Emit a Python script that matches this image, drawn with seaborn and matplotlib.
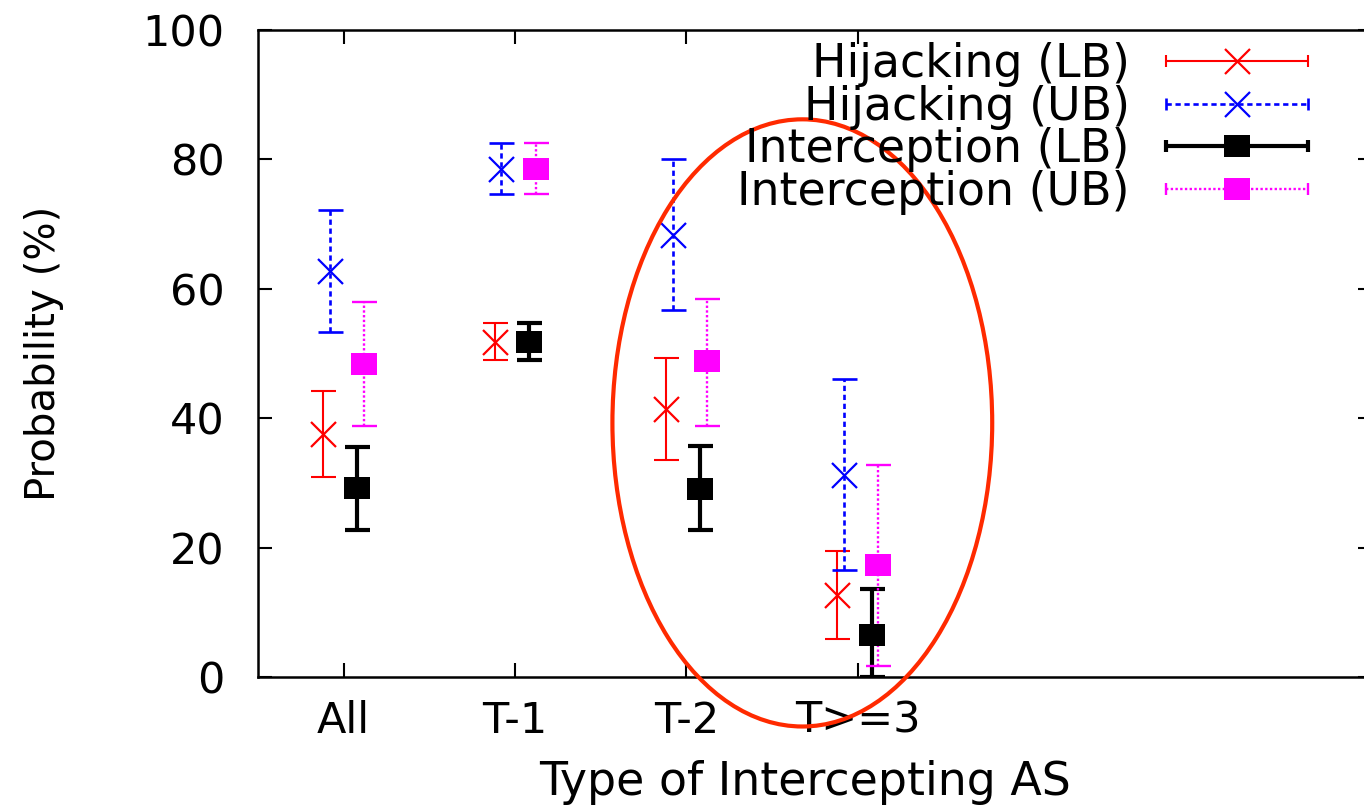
import numpy as np
import pandas as pd
import matplotlib
matplotlib.use("Agg")
import matplotlib.pyplot as plt
import seaborn as sns
from matplotlib.lines import Line2D
from matplotlib.patches import Ellipse
from matplotlib.legend_handler import HandlerBase

# ---------------- data ----------------
categories = ["All", "T-1", "T-2", "T>=3"]
series_names = ["Hijacking (LB)", "Hijacking (UB)", "Interception (LB)", "Interception (UB)"]

hij_lb = [37.6, 51.8, 41.5, 12.7]
hij_lb_lo = [31.0, 49.0, 33.5, 5.9]
hij_lb_hi = [44.3, 54.7, 49.3, 19.5]

hij_ub = [62.8, 78.6, 68.4, 31.3]
hij_ub_lo = [53.4, 74.7, 56.8, 16.6]
hij_ub_hi = [72.2, 82.5, 80.1, 46.1]

int_lb = [29.2, 51.8, 29.1, 6.5]
int_lb_lo = [22.7, 49.0, 22.8, 0.0]
int_lb_hi = [35.6, 54.7, 35.7, 13.6]

int_ub = [48.4, 78.6, 48.8, 17.3]
int_ub_lo = [38.9, 74.7, 38.9, 1.7]
int_ub_hi = [58.0, 82.5, 58.4, 32.8]

y_ticks = [0, 20, 40, 60, 80, 100]

# ---------------- style ----------------
sns.set_style("ticks")
plt.rcParams["font.family"] = ["DejaVu Sans"]
plt.rcParams["text.color"] = "black"
plt.rcParams["axes.labelcolor"] = "black"
plt.rcParams["xtick.color"] = "black"
plt.rcParams["ytick.color"] = "black"
plt.rcParams["axes.edgecolor"] = "black"

rect = [(-1, -0.8), (1, -0.8), (1, 0.8), (-1, 0.8), (-1, -0.8)]
styles = [
    dict(color="#ff0000", ls="-", lw=1.5, marker="x", ms=18, mew=1.6, offset=-0.12),
    dict(color="#0000ff", ls=(0, (2.0, 1.4)), lw=1.9, marker="x", ms=18, mew=1.6, offset=-0.08),
    dict(color="#000000", ls="-", lw=3.0, marker=rect, ms=19, mew=0, offset=0.08),
    dict(color="#ff00ff", ls=(0, (1.0, 1.0)), lw=1.7, marker=rect, ms=19, mew=0, offset=0.12),
]
vals = [(hij_lb, hij_lb_lo, hij_lb_hi), (hij_ub, hij_ub_lo, hij_ub_hi),
        (int_lb, int_lb_lo, int_lb_hi), (int_ub, int_ub_lo, int_ub_hi)]

W, H = 1364, 810
fig = plt.figure(figsize=(W / 100, H / 100), dpi=100)
ax_left, ax_right, ax_top, ax_bot = 258, 1372, 30, 677.3
ax = fig.add_axes([ax_left / W, 1 - ax_bot / H, (ax_right - ax_left) / W, (ax_bot - ax_top) / H])

xpos = np.arange(1, len(categories) + 1)
capsize = 9
for name, st, (v, lo, hi) in zip(series_names, styles, vals):
    v = np.array(v); lo = np.array(lo); hi = np.array(hi)
    x = xpos + st["offset"]
    eb = ax.errorbar(x, v, yerr=[v - lo, hi - v], fmt="none", ecolor=st["color"],
                     elinewidth=st["lw"], capsize=capsize, capthick=st["lw"], zorder=2)
    eb[2][0].set_linestyle(st["ls"])
    df = pd.DataFrame({"x": x, "y": v})
    if st["mew"] > 0:
        sns.scatterplot(data=df, x="x", y="y", marker=st["marker"], s=st["ms"] ** 2,
                        color=st["color"], linewidth=st["mew"], ax=ax, legend=False, zorder=3)
    else:
        sns.scatterplot(data=df, x="x", y="y", marker=st["marker"], s=st["ms"] ** 2,
                        color=st["color"], edgecolor=st["color"], linewidth=0, ax=ax,
                        legend=False, zorder=3)

# highlight ellipse
ell = Ellipse((3.676, 39.3), width=2.216, height=93.8, fill=False, edgecolor="#ff2a00",
              lw=3.0, clip_on=False, zorder=4)
ax.add_patch(ell)

ax.set_xlim(0.5, 7.0)
ax.set_ylim(0, 100)
ax.set_xticks(xpos)
ax.set_xticklabels(categories)
ax.set_yticks(y_ticks)
ax.tick_params(axis="both", direction="in", length=10, width=1.5, colors="black",
               top=True, right=True)
ax.tick_params(axis="y", labelsize=31, pad=24)
ax.tick_params(axis="x", labelsize=31, pad=16)
for sp in ax.spines.values():
    sp.set_linewidth(1.8)
    sp.set_color("black")
    sp.set_visible(True)

ax.set_xlabel("Type of Intercepting AS", fontsize=33, color="black")
ax.set_ylabel("Probability (%)", fontsize=29, color="black")
ax.xaxis.set_label_coords((805 - ax_left) / (ax_right - ax_left), -(760 - ax_bot) / (ax_bot - ax_top))
ax.yaxis.set_label_coords((64 - ax_left) / (ax_right - ax_left), 0.5)


# ---------------- legend (gnuplot style) ----------------
class Key:
    def __init__(self, st):
        self.st = st


class KeyHandler(HandlerBase):
    def create_artists(self, legend, orig_handle, xdescent, ydescent, width, height,
                       fontsize, trans):
        st = orig_handle.st
        y = height / 2 - ydescent
        x0, x1 = -xdescent, width - xdescent
        line = Line2D([x0, x1], [y, y], color=st["color"], ls=st["ls"], lw=st["lw"])
        caps = Line2D([x0, x1], [y, y], ls="none", marker="|", ms=9,
                      mew=st["lw"], color=st["color"])
        if st["mew"] > 0:
            mk = Line2D([(x0 + x1) / 2], [y], ls="none", marker=st["marker"], ms=st["ms"],
                        mew=st["mew"], color=st["color"])
        else:
            mk = Line2D([(x0 + x1) / 2], [y], ls="none", marker=st["marker"], ms=st["ms"],
                        mew=0, markerfacecolor=st["color"], color=st["color"])
        for a in (line, caps, mk):
            a.set_transform(trans)
        return [line, caps, mk]


handles = [Key(st) for st in styles]
leg = ax.legend(handles, series_names, handler_map={Key: KeyHandler()},
                loc="upper right", bbox_to_anchor=(1308 / W, 1 - 42 / H),
                bbox_transform=fig.transFigure, frameon=False, markerfirst=False,
                fontsize=33, handlelength=3.1, handletextpad=0.79, labelspacing=-0.05,
                borderpad=0, borderaxespad=0, handleheight=0.7)
for t in leg.get_texts():
    t.set_color("black")

fig.savefig("out.png", dpi=100)
